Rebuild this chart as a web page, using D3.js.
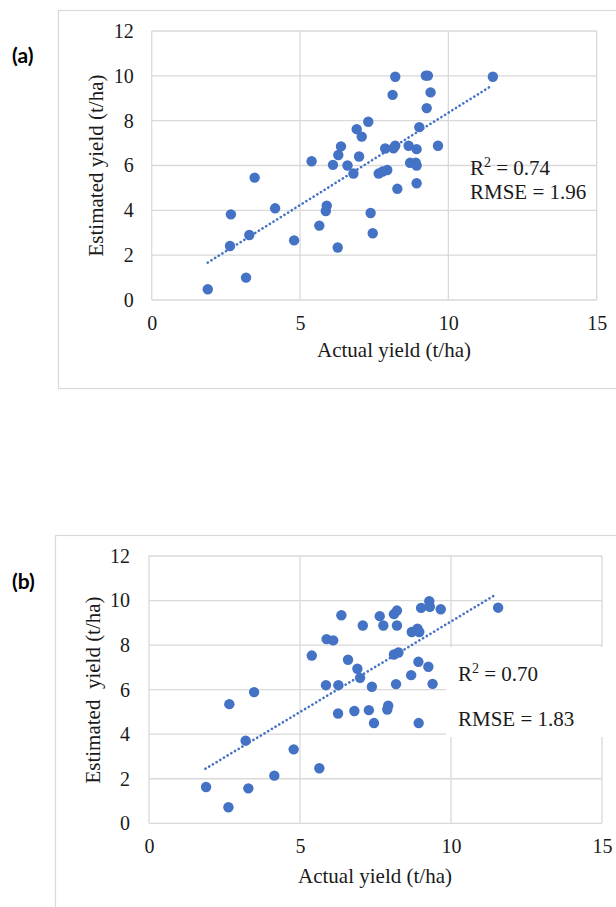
<!DOCTYPE html>
<html><head><meta charset="utf-8">
<script src="https://cdn.jsdelivr.net/npm/d3@7/dist/d3.min.js"></script>
<style>
html,body{margin:0;padding:0;background:#fff;}
svg{display:block;}
</style></head>
<body>
<svg id="chart" width="616" height="907"></svg>
<script>
// ---------- DATA ----------
const xTicks = [0, 5, 10, 15];
const yTicks = [0, 2, 4, 6, 8, 10, 12];
const xTitle = "Actual yield (t/ha)";
const yTitleA = "Estimated yield (t/ha)";
const yTitleB = "Estimated\u00a0 yield (t/ha)";
const panelLabels = ["(a)", "(b)"];
const r2Values = ["0.74", "0.70"];
const rmseValues = ["1.96", "1.83"];

const actualA = [1.89, 3.18, 2.64, 2.67, 3.29, 3.47, 4.16, 4.80, 5.39, 5.65, 5.87, 5.90, 6.27, 6.11, 6.29, 6.38,
  6.60, 6.80, 6.99, 6.91, 7.08, 7.30, 7.38, 7.45, 7.65, 7.78, 7.94, 7.87, 8.15, 8.21, 8.12, 8.21, 8.28, 8.66,
  8.71, 8.90, 8.93, 8.93, 8.93, 9.02, 9.24, 9.31, 9.40, 9.27, 9.65, 11.5];
const estimatedA = [0.48, 1.00, 2.41, 3.82, 2.90, 5.46, 4.09, 2.66, 6.19, 3.32, 3.97, 4.21, 2.34, 6.03, 6.47, 6.85,
  6.00, 5.64, 6.40, 7.62, 7.29, 7.95, 3.88, 2.98, 5.64, 5.73, 5.80, 6.76, 6.77, 6.88, 9.15, 9.96, 4.96, 6.88,
  6.12, 6.13, 6.73, 6.00, 5.21, 7.71, 10.01, 10.01, 9.26, 8.56, 6.88, 9.96];
const trendAx = [1.89, 11.45];
const trendAy = [1.67, 9.55];

const actualB = [1.89, 2.63, 2.66, 3.20, 3.29, 3.48, 4.15, 4.79, 5.39, 5.64, 5.86, 5.88, 6.10, 6.27, 6.26, 6.37,
  6.59, 6.80, 6.90, 6.99, 7.08, 7.28, 7.38, 7.45, 7.64, 7.76, 7.89, 7.92, 8.11, 8.26, 8.11, 8.21, 8.21, 8.18,
  8.68, 8.70, 8.89, 8.95, 8.92, 8.93, 9.01, 9.25, 9.28, 9.30, 9.39, 9.66, 11.56];
const estimatedB = [1.63, 0.72, 5.35, 3.71, 1.57, 5.89, 2.14, 3.32, 7.53, 2.47, 6.20, 8.27, 8.21, 6.20, 4.93, 9.34,
  7.34, 5.04, 6.94, 6.53, 8.88, 5.08, 6.13, 4.50, 9.30, 8.88, 5.11, 5.28, 7.58, 7.67, 9.39, 9.55, 8.88, 6.25,
  6.65, 8.59, 8.74, 8.59, 7.25, 4.50, 9.67, 7.03, 9.97, 9.72, 6.26, 9.61, 9.68];
const trendBx = [1.87, 11.5];
const trendBy = [2.45, 10.28];

// ---------- DRAW ----------
const svg = d3.select("#chart");
const BLUE = "#4472C4";
const GRID = "#d9d9d9";
const TXT = "#1a1a1a";
const SERIF = "'Liberation Serif','Times New Roman',serif";

function drawPanel(cfg) {
  const g = svg.append("g");
  // outer chart frame
  g.append("rect").attr("x", cfg.frame[0]).attr("y", cfg.frame[1])
    .attr("width", cfg.frame[2]).attr("height", cfg.frame[3])
    .attr("fill", "none").attr("stroke", GRID).attr("stroke-width", 1.2);

  const x = d3.scaleLinear().domain([0, 15]).range([cfg.left, cfg.right]);
  const y = d3.scaleLinear().domain([0, 12]).range([cfg.bottom, cfg.top]);

  // gridlines
  g.append("g").selectAll("line").data(yTicks).join("line")
    .attr("x1", x(0)).attr("x2", x(15)).attr("y1", d => y(d)).attr("y2", d => y(d))
    .attr("stroke", GRID).attr("stroke-width", 1.3);
  g.append("g").selectAll("line").data(xTicks).join("line")
    .attr("x1", d => x(d)).attr("x2", d => x(d)).attr("y1", y(0)).attr("y2", y(12))
    .attr("stroke", GRID).attr("stroke-width", 1.3);

  // annotation background box (panel b)
  if (cfg.box) {
    g.append("rect").attr("x", cfg.box[0]).attr("y", cfg.box[1])
      .attr("width", cfg.box[2]).attr("height", cfg.box[3]).attr("fill", "#fff");
  }

  // axes (labels only)
  const ax = g.append("g").attr("transform", `translate(0,${cfg.bottom})`)
    .call(d3.axisBottom(x).tickValues(xTicks).tickSize(0).tickPadding(16).tickFormat(d3.format("d")));
  ax.select(".domain").remove();
  ax.selectAll("text").attr("font-family", SERIF).attr("font-size", 20).attr("fill", TXT);
  ax.attr("font-family", null).attr("font-size", null);

  const ay = g.append("g").attr("transform", `translate(${cfg.left},0)`)
    .call(d3.axisLeft(y).tickValues(yTicks).tickSize(0).tickPadding(cfg.yPad).tickFormat(d3.format("d")));
  ay.select(".domain").remove();
  ay.selectAll("text").attr("font-family", SERIF).attr("font-size", 20).attr("fill", TXT);

  // trendline
  const line = d3.line().x(d => x(d[0])).y(d => y(d[1]));
  g.append("path").datum(d3.zip(cfg.tx, cfg.ty)).attr("d", line)
    .attr("fill", "none").attr("stroke", BLUE).attr("stroke-width", 2.6)
    .attr("stroke-linecap", "round").attr("stroke-dasharray", "0.1 4.2");

  // points
  g.append("g").selectAll("circle").data(d3.zip(cfg.xs, cfg.ys)).join("circle")
    .attr("cx", d => x(d[0])).attr("cy", d => y(d[1])).attr("r", 5.2).attr("fill", BLUE);

  // titles
  g.append("text").attr("x", cfg.xTitlePos[0]).attr("y", cfg.xTitlePos[1])
    .attr("text-anchor", "middle").attr("font-family", SERIF).attr("font-size", 21)
    .attr("fill", TXT).text(xTitle);
  g.append("text").attr("transform", `translate(${cfg.yTitlePos[0]},${cfg.yTitlePos[1]}) rotate(-90)`)
    .attr("text-anchor", "middle").attr("font-family", SERIF).attr("font-size", 21)
    .attr("fill", TXT).text(cfg.yTitle);

  // panel label
  g.append("text").attr("x", cfg.labelPos[0]).attr("y", cfg.labelPos[1])
    .attr("font-family", "Lato, 'Open Sans', sans-serif").attr("font-weight", "bold")
    .attr("font-size", 21).attr("fill", "#000").text(cfg.label);

  // stats
  const t1 = g.append("text").attr("x", cfg.statPos[0]).attr("y", cfg.statPos[1])
    .attr("font-family", SERIF).attr("font-size", 21).attr("fill", TXT);
  t1.append("tspan").text("R");
  t1.append("tspan").attr("font-size", 14).attr("dy", -8).text("2");
  t1.append("tspan").attr("dy", 8).text(" = " + cfg.r2);
  g.append("text").attr("x", cfg.statPos[0]).attr("y", cfg.statPos[2])
    .attr("font-family", SERIF).attr("font-size", 21).attr("fill", TXT)
    .text("RMSE = " + cfg.rmse);
}

drawPanel({
  frame: [58.5, 10.5, 600, 378],
  left: 151.7, right: 596.7, top: 31, bottom: 300, yPad: 18,
  xs: actualA, ys: estimatedA, tx: trendAx, ty: trendAy,
  xTitlePos: [394, 357], yTitlePos: [103, 165.5], yTitle: yTitleA,
  labelPos: [12, 63], label: panelLabels[0],
  statPos: [470, 175, 199], r2: r2Values[0], rmse: rmseValues[0]
});

drawPanel({
  frame: [55.5, 535.5, 600, 420],
  left: 149, right: 602, top: 556, bottom: 823.3, yPad: 19,
  xs: actualB, ys: estimatedB, tx: trendBx, ty: trendBy,
  xTitlePos: [375, 883], yTitlePos: [100, 690], yTitle: yTitleB,
  labelPos: [12, 589], label: panelLabels[1],
  statPos: [458, 681, 726], r2: r2Values[1], rmse: rmseValues[1],
  box: [446, 647, 162, 90]
});
</script>
</body></html>
